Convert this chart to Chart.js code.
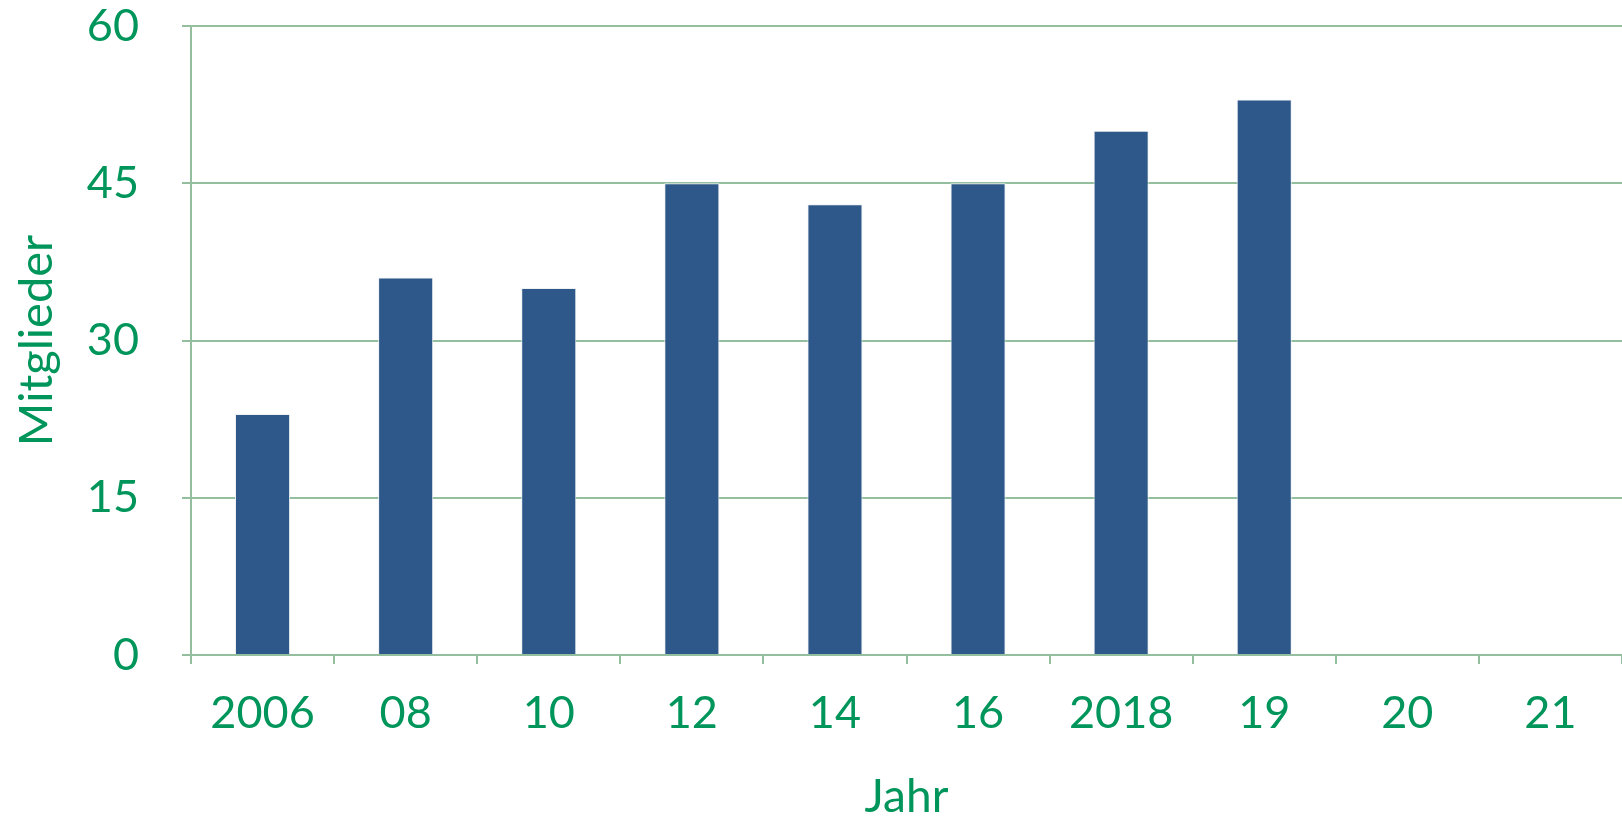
<!DOCTYPE html>
<html>
<head>
<meta charset="utf-8">
<script src="https://cdn.jsdelivr.net/npm/chart.js@4.4.0/dist/chart.umd.min.js"></script>
<style>
    html, body { margin: 0; padding: 0; background: #fff; }
    #wrap { width: 1622px; height: 820px; }
</style>
</head>
<body>
<div id="wrap"><canvas id="myChart" width="1622" height="820"></canvas></div>
<script>
// 데이터
const years = ['2006', '08', '10', '12', '14', '16', '2018', '19', '20', '21'];
const members = [23, 36, 35, 45, 43, 45, 50, 53, null, null];
const yTicks = [0, 15, 30, 45, 60];

const GREEN = '#00955a';
const GRID = '#93bf9f';
const BAR = '#2e5889';
const FONT = 'Lato';

const config = {
    type: 'bar',
    data: {
        labels: years,
        datasets: [{
            label: 'Mitglieder',
            data: members,
            backgroundColor: BAR,
            borderColor: '#eef1f4',
            borderWidth: 1,
            categoryPercentage: 1,
            barPercentage: 0.385
        }]
    },
    options: {
        responsive: false,
        animation: false,
        layout: { padding: 0 },
        plugins: {
            legend: { display: false },
            tooltip: { enabled: false }
        },
        scales: {
            x: {
                grid: {
                    offset: true,
                    drawOnChartArea: false,
                    color: GRID,
                    lineWidth: 2,
                    tickLength: 9
                },
                border: { color: GRID, width: 2 },
                ticks: {
                    color: GREEN,
                    font: { family: FONT, size: 45, lineHeight: 1 },
                    padding: 27,
                    maxRotation: 0,
                    autoSkip: false
                },
                title: {
                    display: true,
                    text: 'Jahr',
                    color: GREEN,
                    font: { family: FONT, size: 46, lineHeight: 1 },
                    padding: { top: 22, bottom: 0 }
                },
                afterFit: (scale) => { scale.height = 165; }
            },
            y: {
                min: 0,
                max: 60,
                afterBuildTicks: (scale) => {
                    scale.ticks = yTicks.map((v) => ({ value: v }));
                },
                grid: {
                    color: GRID,
                    lineWidth: 2,
                    tickLength: 9
                },
                border: { color: GRID, width: 2 },
                ticks: {
                    color: GREEN,
                    font: { family: FONT, size: 45, lineHeight: 1 },
                    padding: 43
                },
                title: {
                    display: true,
                    text: 'Mitglieder',
                    color: GREEN,
                    font: { family: FONT, size: 47, lineHeight: 1 },
                    padding: { top: 13, bottom: 0 }
                },
                afterFit: (scale) => {
                    scale.width = 191;
                    // 위쪽 여백 (tick padding 이 더해지지 않도록)
                    scale.paddingTop = 26;
                    scale.paddingBottom = 0;
                }
            }
        }
    }
};

const myChart = new Chart(document.getElementById('myChart'), config);
</script>
</body>
</html>
